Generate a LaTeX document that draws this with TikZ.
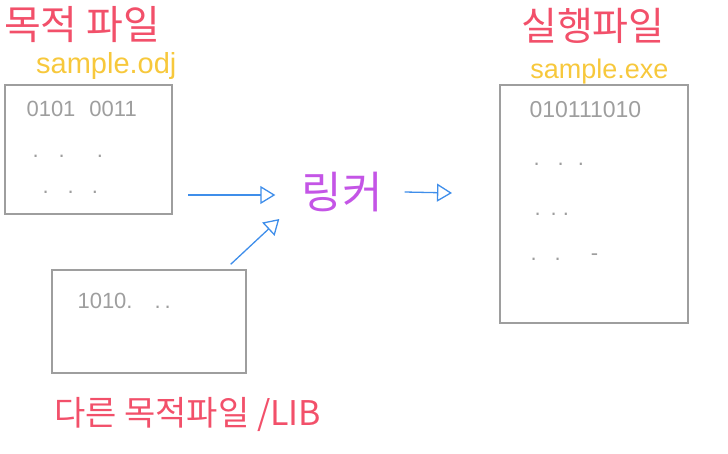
\documentclass[tikz,border=0pt]{standalone}
\usepackage{fontspec}
\setmainfont{Liberation Sans}
\newfontfamily\kofont{Noto Sans CJK KR}
\usetikzlibrary{
	positioning,
	arrows.meta
}
\definecolor{titlecolor}{HTML}{F2506A}
\definecolor{namecolor}{HTML}{F7C83C}
\definecolor{linkcolor}{HTML}{C455E6}
\definecolor{arrowcolor}{HTML}{3F8EEA}
\definecolor{sheetcolor}{HTML}{9E9E9E}
\tikzset{
	sheet/.style={
		draw=sheetcolor,
		line width=1.3pt,
		shape=rectangle,
		inner sep=0pt
	},
	titletext/.style={
		text=titlecolor,
		font=\kofont\fontsize{40}{44}\selectfont,
		inner sep=0pt
	},
	filename/.style={
		text=namecolor,
		font=\fontsize{27}{30}\selectfont,
		inner sep=0pt
	},
	bits/.style={
		text=sheetcolor,
		font=\fontsize{22}{26}\selectfont,
		inner sep=0pt,
		anchor=west
	},
	arrow/.style={
		-{Triangle[open,length=15pt,width=18pt]},
		color=arrowcolor,
		line width=1.3pt
	}
}

\begin{document}
\begin{tikzpicture}[x=1pt, y=-1pt]
	\useasboundingbox (0,0) rectangle (728,454);
	
	% Nodes
	% Left side: object file
	\node[sheet, minimum width=167pt, minimum height=129pt] (objbox) at (88.5,149.5) {};
	\node[filename, font=\fontsize{29}{32}\selectfont, anchor=base east] (objname) at ([shift={(4,-11)}]objbox.north east) {sample.odj};
	\node[titletext, anchor=base west] (objtitle) at (4,40) {목적 파일};
	\node[bits] (objbits) at ([shift={(22,25)}]objbox.north west) {0101\hspace{14pt}0011};
	\node[bits] (objdots1) at ([shift={(28,72)}]objbox.north west) {.\hspace{20pt}.\hspace{32pt}.};
	\node[bits] (objdots2) at ([shift={(38,108)}]objbox.north west) {.\hspace{19pt}.\hspace{18pt}.};
	
	% Left side: other object file / library
	\node[sheet, minimum width=194pt, minimum height=103pt] (otherbox) at (149,321.5) {};
	\node[bits] (otherbits) at ([shift={(26,32)}]otherbox.north west) {1010.\hspace{22pt}.\hspace{4pt}.};
	\node[titletext, font=\kofont\fontsize{34}{38}\selectfont, anchor=base west] (othertitle) at (54,425) {다른 목적파일 /LIB};
	
	% Middle: linker
	\node[titletext, text=linkcolor, font=\kofont\fontsize{44}{48}\selectfont] (linker) at (342,192) {링커};
	
	% Right side: executable
	\node[sheet, minimum width=188pt, minimum height=238pt] (exebox) at (594,204) {};
	\node[filename, anchor=base east] (exename) at ([shift={(-20,-6)}]exebox.north east) {sample.exe};
	\node[titletext, font=\kofont\fontsize{39}{43}\selectfont, anchor=base west] (exetitle) at (521,41) {실행파일};
	\node[bits, font=\fontsize{23}{27}\selectfont] (exebits) at ([shift={(30,25)}]exebox.north west) {010111010};
	\node[bits] (exedots1) at ([shift={(34,80)}]exebox.north west) {.\hspace{18pt}.\hspace{14pt}.};
	\node[bits] (exedots2) at ([shift={(35,130)}]exebox.north west) {.\hspace{10pt}.\hspace{6pt}.};
	\node[bits] (exedots3) at ([shift={(31,173)}]exebox.north west) {.\hspace{18pt}.\hspace{30pt}-};
	
	% Free ends of the arrows
	\coordinate (objout) at (188,195);
	\coordinate (exein) at (452,193);
	
	% Arrows
	% object file to linker
	\draw[arrow] (objout) -- ([xshift=-26pt]linker.west |- objout);
	
	% other file to linker
	\draw[arrow] ([shift={(-16,-5)}]otherbox.north east) -- ([shift={(-22,27)}]linker.west);
	
	% linker to executable
	\draw[arrow] ([xshift=22pt]linker.east) -- (exein);
	
\end{tikzpicture}
\end{document}
